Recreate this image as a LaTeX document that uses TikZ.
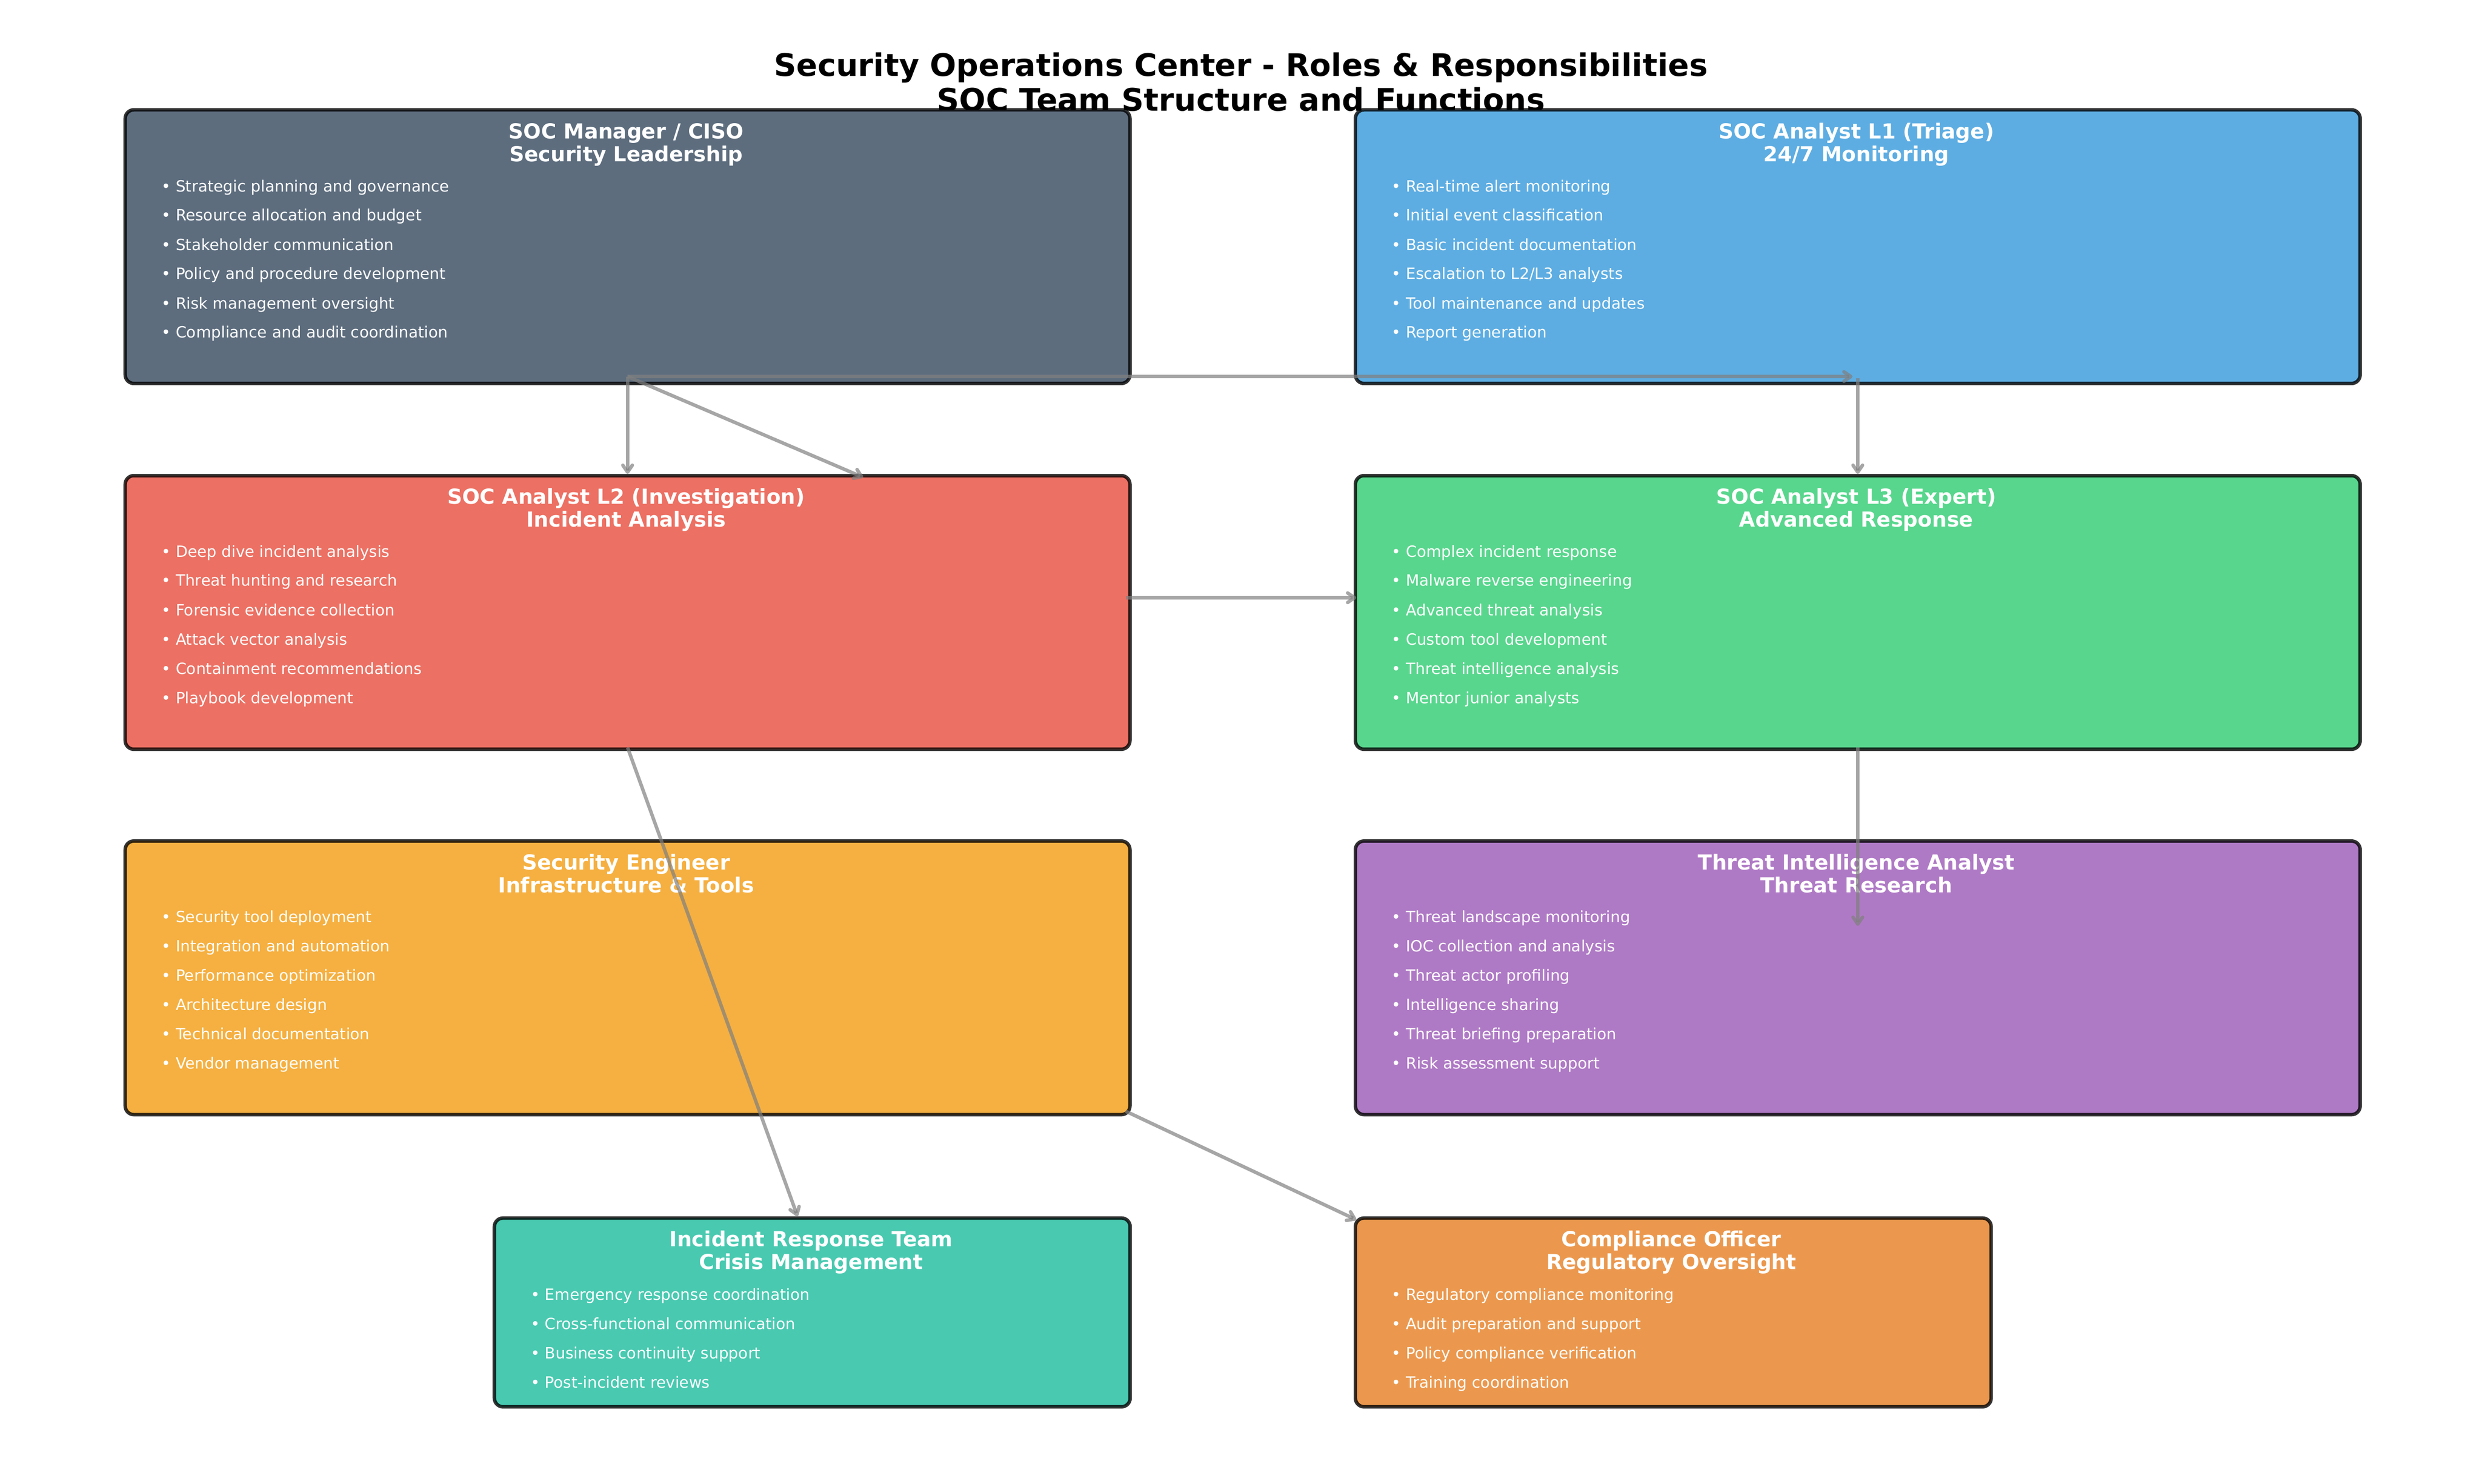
\documentclass[tikz,border=0pt]{standalone}
\usepackage{fontspec}
\setmainfont{DejaVu Sans}
\usetikzlibrary{arrows.meta}

\definecolor{mgrfill}{HTML}{5D6D7E}
\definecolor{lonefill}{HTML}{5DADE2}
\definecolor{ltwofill}{HTML}{EC7063}
\definecolor{lthreefill}{HTML}{58D68D}
\definecolor{engfill}{HTML}{F5B041}
\definecolor{tifill}{HTML}{AF7AC5}
\definecolor{irfill}{HTML}{48C9B0}
\definecolor{compfill}{HTML}{EB984E}

\tikzset{
  rolebox/.style={draw=black, draw opacity=0.8, line width=2bp, rounded corners=5bp,
    anchor=north west, inner sep=0pt},
  bigbox/.style={rolebox, minimum width=580bp, minimum height=158bp},
  smallbox/.style={rolebox, minimum width=367bp, minimum height=109bp},
  maintitle/.style={anchor=base, inner sep=0pt, font=\fontsize{18}{21}\selectfont\bfseries},
  roletitle/.style={anchor=base, inner sep=0pt, text=white, font=\fontsize{12}{14}\selectfont\bfseries},
  roleitem/.style={anchor=base west, inner sep=0pt, text=white, font=\fontsize{9}{11}\selectfont},
  link/.style={draw=gray, draw opacity=0.7, line width=2bp,
    -{Straight Barb[length=4bp,width=5.5bp,round]}},
}

\begin{document}
\begin{tikzpicture}[x=24bp,y=-24bp]
\useasboundingbox (0,0) rectangle (59.70,35.70);

\node[maintitle] (title1) at (29.85,1.83) {Security Operations Center - Roles \& Responsibilities};
\node[maintitle] (title2) at (29.85,2.67) {SOC Team Structure and Functions};

% boxes
\node[bigbox, fill=mgrfill] (mgr) at (2.97,2.60) {};
\node[bigbox, fill=lonefill] (l1) at (32.56,2.60) {};
\node[bigbox, fill=ltwofill] (l2) at (2.97,11.40) {};
\node[bigbox, fill=lthreefill] (l3) at (32.56,11.40) {};
\node[bigbox, fill=engfill] (eng) at (2.97,20.19) {};
\node[bigbox, fill=tifill] (ti) at (32.56,20.19) {};
\node[smallbox, fill=irfill] (ir) at (11.85,29.26) {};
\node[smallbox, fill=compfill] (comp) at (32.56,29.26) {};

% SOC manager
\node[roletitle] (mgr-t1) at (15.06,3.34) {SOC Manager / CISO};
\node[roletitle] (mgr-t2) at (15.06,3.89) {Security Leadership};
\node[roleitem] (mgr-1) at (3.88,4.61) {• Strategic planning and governance};
\node[roleitem] (mgr-2) at (3.88,5.31) {• Resource allocation and budget};
\node[roleitem] (mgr-3) at (3.88,6.02) {• Stakeholder communication};
\node[roleitem] (mgr-4) at (3.88,6.72) {• Policy and procedure development};
\node[roleitem] (mgr-5) at (3.88,7.43) {• Risk management oversight};
\node[roleitem] (mgr-6) at (3.88,8.13) {• Compliance and audit coordination};

% L1
\node[roletitle] (l1-t1) at (44.65,3.34) {SOC Analyst L1 (Triage)};
\node[roletitle] (l1-t2) at (44.65,3.89) {24/7 Monitoring};
\node[roleitem] (l1-1) at (33.47,4.61) {• Real-time alert monitoring};
\node[roleitem] (l1-2) at (33.47,5.31) {• Initial event classification};
\node[roleitem] (l1-3) at (33.47,6.02) {• Basic incident documentation};
\node[roleitem] (l1-4) at (33.47,6.72) {• Escalation to L2/L3 analysts};
\node[roleitem] (l1-5) at (33.47,7.43) {• Tool maintenance and updates};
\node[roleitem] (l1-6) at (33.47,8.13) {• Report generation};

% L2
\node[roletitle] (l2-t1) at (15.06,12.13) {SOC Analyst L2 (Investigation)};
\node[roletitle] (l2-t2) at (15.06,12.68) {Incident Analysis};
\node[roleitem] (l2-1) at (3.88,13.40) {• Deep dive incident analysis};
\node[roleitem] (l2-2) at (3.88,14.10) {• Threat hunting and research};
\node[roleitem] (l2-3) at (3.88,14.81) {• Forensic evidence collection};
\node[roleitem] (l2-4) at (3.88,15.51) {• Attack vector analysis};
\node[roleitem] (l2-5) at (3.88,16.22) {• Containment recommendations};
\node[roleitem] (l2-6) at (3.88,16.92) {• Playbook development};

% L3
\node[roletitle] (l3-t1) at (44.65,12.13) {SOC Analyst L3 (Expert)};
\node[roletitle] (l3-t2) at (44.65,12.68) {Advanced Response};
\node[roleitem] (l3-1) at (33.47,13.40) {• Complex incident response};
\node[roleitem] (l3-2) at (33.47,14.10) {• Malware reverse engineering};
\node[roleitem] (l3-3) at (33.47,14.81) {• Advanced threat analysis};
\node[roleitem] (l3-4) at (33.47,15.51) {• Custom tool development};
\node[roleitem] (l3-5) at (33.47,16.22) {• Threat intelligence analysis};
\node[roleitem] (l3-6) at (33.47,16.92) {• Mentor junior analysts};

% engineer
\node[roletitle] (eng-t1) at (15.06,20.92) {Security Engineer};
\node[roletitle] (eng-t2) at (15.06,21.47) {Infrastructure \& Tools};
\node[roleitem] (eng-1) at (3.88,22.19) {• Security tool deployment};
\node[roleitem] (eng-2) at (3.88,22.89) {• Integration and automation};
\node[roleitem] (eng-3) at (3.88,23.60) {• Performance optimization};
\node[roleitem] (eng-4) at (3.88,24.30) {• Architecture design};
\node[roleitem] (eng-5) at (3.88,25.01) {• Technical documentation};
\node[roleitem] (eng-6) at (3.88,25.71) {• Vendor management};

% threat intel
\node[roletitle] (ti-t1) at (44.65,20.92) {Threat Intelligence Analyst};
\node[roletitle] (ti-t2) at (44.65,21.47) {Threat Research};
\node[roleitem] (ti-1) at (33.47,22.19) {• Threat landscape monitoring};
\node[roleitem] (ti-2) at (33.47,22.89) {• IOC collection and analysis};
\node[roleitem] (ti-3) at (33.47,23.60) {• Threat actor profiling};
\node[roleitem] (ti-4) at (33.47,24.30) {• Intelligence sharing};
\node[roleitem] (ti-5) at (33.47,25.01) {• Threat briefing preparation};
\node[roleitem] (ti-6) at (33.47,25.71) {• Risk assessment support};

% incident response
\node[roletitle] (ir-t1) at (19.51,29.99) {Incident Response Team};
\node[roletitle] (ir-t2) at (19.51,30.54) {Crisis Management};
\node[roleitem] (ir-1) at (12.76,31.28) {• Emergency response coordination};
\node[roleitem] (ir-2) at (12.76,31.98) {• Cross-functional communication};
\node[roleitem] (ir-3) at (12.76,32.69) {• Business continuity support};
\node[roleitem] (ir-4) at (12.76,33.39) {• Post-incident reviews};

% compliance
\node[roletitle] (comp-t1) at (40.20,29.99) {Compliance Officer};
\node[roletitle] (comp-t2) at (40.20,30.54) {Regulatory Oversight};
\node[roleitem] (comp-1) at (33.47,31.28) {• Regulatory compliance monitoring};
\node[roleitem] (comp-2) at (33.47,31.98) {• Audit preparation and support};
\node[roleitem] (comp-3) at (33.47,32.69) {• Policy compliance verification};
\node[roleitem] (comp-4) at (33.47,33.39) {• Training coordination};

% links
\draw[link] ([yshift=5bp]mgr.south) -- ([xshift=-3bp,yshift=5bp]l1.south);
\draw[link] ([yshift=5bp]mgr.south) -- (l2.north);
\draw[link] ([yshift=5bp]mgr.south) -- ([xshift=136bp,yshift=-2bp]l2.north);
\draw[link] ([yshift=4bp]l1.south) -- (l3.north);
\draw[link] ([xshift=-3.5bp,yshift=8.5bp]l2.east) -- ([xshift=1.5bp,yshift=8.5bp]l3.west);
\draw[link] ([yshift=2bp]l3.south) -- ([yshift=-50bp]ti.north);
\draw[link] ([yshift=2bp]l2.south) -- ([xshift=-8.5bp]ir.north);
\draw[link] ([xshift=-3.5bp,yshift=3bp]eng.south east) -- ([xshift=1.5bp,yshift=-2bp]comp.north west);
\end{tikzpicture}
\end{document}
